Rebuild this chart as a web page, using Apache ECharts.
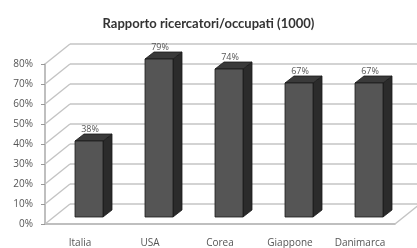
<!DOCTYPE html>
<html>
<head>
<meta charset="utf-8">
<script src="https://cdn.jsdelivr.net/npm/echarts@6/dist/echarts.min.js"></script>
<style>
  html, body { margin: 0; padding: 0; background: #fff; }
  #chart { width: 417px; height: 248px; }
</style>
</head>
<body>
<div id="chart"></div>
<script>
// dati
const paesi = ["Italia", "USA", "Corea", "Giappone", "Danimarca"];
const rapporto = [38, 79, 74, 67, 67];
const tacche = [0, 10, 20, 30, 40, 50, 60, 70, 80];

// profondita' finta 3D (pixel)
const wallDx = 25, wallDy = -20;
const barDx = 9, barDy = -7;

const chart = echarts.init(document.getElementById("chart"));

// pareti laterali: diagonali dalla linea dell'asse alla parete di fondo
function renderWall(params, api) {
  const cs = params.coordSys;
  const v = api.value(0);
  const p = api.coord([0, v]);
  const children = [{
    type: "line",
    shape: { x1: cs.x, y1: p[1], x2: cs.x + wallDx, y2: p[1] + wallDy },
    style: { stroke: "#c4c4c4", lineWidth: 1.5 }
  }];
  if (v === 0) {
    // bordo destro del pavimento
    children.push({
      type: "line",
      shape: { x1: cs.x + cs.width, y1: p[1], x2: cs.x + cs.width + wallDx, y2: p[1] + wallDy },
      style: { stroke: "#c4c4c4", lineWidth: 1.5 }
    });
  }
  return { type: "group", children: children };
}

// barre 3D
function renderBar(params, api) {
  const idx = api.value(0);
  const top = api.coord([idx, api.value(1)]);
  const base = api.coord([idx, 0]);
  const w = 28;
  const x0 = top[0] + 9 - w / 2, x1 = x0 + w;
  const yt = top[1] - 7, yb = base[1] - 7;
  return {
    type: "group",
    children: [
      {
        type: "polygon",
        shape: { points: [[x1, yt], [x1 + barDx, yt + barDy], [x1 + barDx, yb + barDy], [x1, yb]] },
        style: { fill: "#2b2b2b", stroke: "#1a1a1a", lineWidth: 0.8 }
      },
      {
        type: "polygon",
        shape: { points: [[x0, yt], [x1, yt], [x1 + barDx, yt + barDy], [x0 + barDx, yt + barDy]] },
        style: { fill: "#3a3a3a", stroke: "#1a1a1a", lineWidth: 0.8 }
      },
      {
        type: "rect",
        shape: { x: x0, y: yt, width: w, height: yb - yt },
        style: { fill: "#555555", stroke: "#1a1a1a", lineWidth: 0.8 }
      },
      {
        type: "text",
        style: {
          text: api.value(1) + "%",
          x: x0 + w / 2 + 1, y: yt + barDy,
          align: "center", verticalAlign: "bottom",
          fill: "#555", fontSize: 9, fontFamily: "Open Sans"
        }
      }
    ]
  };
}

const option = {
  animation: false,
  backgroundColor: "#fff",
  title: {
    text: "Rapporto ricercatori/occupati (1000)",
    left: "center",
    top: 12,
    textStyle: { fontSize: 13, fontWeight: "bold", color: "#333", fontFamily: "Lato" }
  },
  grid: [
    { left: 45, top: 64, width: 350, height: 160 },
    { left: 70, top: 44, width: 350, height: 160 }
  ],
  xAxis: [
    {
      type: "category",
      gridIndex: 0,
      data: paesi,
      axisLine: { lineStyle: { color: "#aaa", width: 1.5 } },
      axisTick: { length: 3, lineStyle: { color: "#999" } },
      axisLabel: { color: "#555", fontSize: 10, margin: 14, fontFamily: "Open Sans" }
    },
    {
      type: "category",
      gridIndex: 1,
      data: paesi,
      show: false
    }
  ],
  yAxis: [
    {
      type: "value",
      gridIndex: 0,
      min: 0, max: 80, interval: 10,
      axisLine: { show: true, lineStyle: { color: "#aaa", width: 1.5 } },
      axisTick: { show: true, length: 4, lineStyle: { color: "#999" } },
      axisLabel: { formatter: "{value}%", color: "#555", fontSize: 10, margin: 12, fontFamily: "Open Sans" },
      splitLine: { show: false }
    },
    {
      type: "value",
      gridIndex: 1,
      min: 0, max: 80, interval: 10,
      axisLine: { show: false },
      axisTick: { show: false },
      axisLabel: { show: false },
      splitLine: { show: true, lineStyle: { color: "#c4c4c4", width: 1.5 } }
    }
  ],
  series: [
    {
      type: "custom",
      xAxisIndex: 0, yAxisIndex: 0,
      renderItem: renderWall,
      data: tacche.map(t => [t]),
      z: 1
    },
    {
      type: "custom",
      xAxisIndex: 0, yAxisIndex: 0,
      renderItem: renderBar,
      data: rapporto.map((v, i) => [i, v]),
      z: 5
    }
  ]
};

chart.setOption(option);
</script>
</body>
</html>
